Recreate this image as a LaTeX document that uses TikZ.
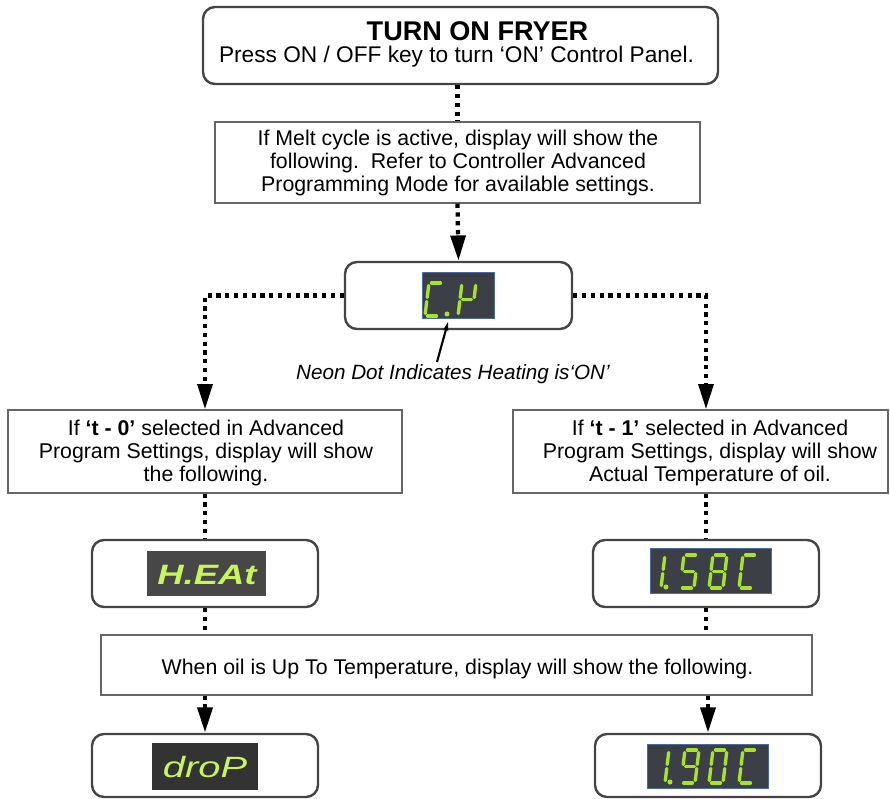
\documentclass[tikz,border=0pt]{standalone}
\usepackage{fontspec}
\setmainfont{Liberation Sans}
\usetikzlibrary{arrows.meta,calc}
\definecolor{boxgray}{HTML}{454545}
\definecolor{rectgray}{HTML}{666666}
\definecolor{led}{HTML}{A6E22E}
\definecolor{ledtext}{HTML}{C8F55E}
\definecolor{dispbg}{HTML}{3C4046}
\definecolor{dispblue}{HTML}{4A6AA0}
\tikzset{
  rbox/.style={draw=boxgray, line width=1.8pt, rounded corners=9pt, fill=white},
  sbox/.style={draw=rectgray, line width=0.9pt, fill=white},
  disp/.style={fill=dispbg, draw=dispblue, line width=0.6pt, inner sep=0pt},
  dispdark/.style={fill=#1, draw=none, inner sep=0pt},
  txt/.style={font=\fontsize{16}{17.4}\selectfont, align=center, inner sep=0pt},
  dots/.style={line width=3.2pt, dash pattern=on 3.2pt off 3.4pt, black},
  dotarrow/.style={dots, -{Triangle[width=11pt,length=19pt]}},
  seg/.style={draw=led, line width=2.5pt, line cap=round},
}
\newcommand\SA{\draw[seg] (2.5,-33) -- (11.5,-33);}
\newcommand\SB{\draw[seg] (14,-30.5) -- (14,-18.5);}
\newcommand\SC{\draw[seg] (14,-14.5) -- (14,-2.5);}
\newcommand\SD{\draw[seg] (2.5,0) -- (11.5,0);}
\newcommand\SE{\draw[seg] (0,-14.5) -- (0,-2.5);}
\newcommand\SF{\draw[seg] (0,-30.5) -- (0,-18.5);}
\newcommand\SG{\draw[seg] (2.5,-16.5) -- (11.5,-16.5);}
\newcommand\lcddigit[3]{\begin{scope}[shift={(#1,#2)},xslant=0.12]#3\end{scope}}
\begin{document}
\begin{tikzpicture}[x=0.75pt,y=-0.75pt]
\useasboundingbox (0,0) rectangle (890,799);

% ---------- boxes ----------
\node[rbox, minimum width=386.25pt, minimum height=57.75pt] (top) at (460.5,45.5) {};
\node[txt, font=\bfseries\fontsize{20.3}{22}\selectfont] (title) at (477.5,31) {TURN ON FRYER};
\node[txt, font=\fontsize{17}{19}\selectfont] (press) at (456.5,57) {Press ON / OFF key to turn ‘ON’ Control Panel.};

\node[sbox, minimum width=363.75pt, minimum height=60.75pt] (melt) at (457.5,162.5) {};
\node[txt] (melttxt) at (458,163) {If Melt cycle is active, display will show the\\following.\ \ Refer to Controller Advanced\\Programming Mode for available settings.};

\node[rbox, minimum width=170.25pt, minimum height=50.25pt] (cp) at (458.5,295.5) {};
\node[disp, minimum width=54pt, minimum height=34.5pt] (cpd) at (458,295) {};

\node[txt, font=\itshape\fontsize{15.5}{17}\selectfont] (neon) at (453,374) {Neon Dot Indicates Heating is‘ON’};

\node[sbox, minimum width=295.5pt, minimum height=62.25pt] (t0) at (205,451.5) {};
\node[txt] (t0txt) at (206,453) {If \textbf{‘t - 0’} selected in Advanced\\Program Settings, display will show\\the following.};

\node[sbox, minimum width=281.25pt, minimum height=62.25pt] (t1) at (700.5,451.5) {};
\node[txt] (t1txt) at (710,453) {If \textbf{‘t - 1’} selected in Advanced\\Program Settings, display will show\\Actual Temperature of oil.};

\node[rbox, minimum width=169.5pt, minimum height=50.25pt] (heat) at (205,573.5) {};
\node[dispdark=black!72, minimum width=89.25pt, minimum height=33.75pt] (heatd) at (206.5,573.5) {};
\node[inner sep=0pt, text=ledtext, font=\bfseries\itshape\fontsize{21}{21}\selectfont] (heattxt) at (207,575) {\scalebox{1.3}[1]{H.EAt}};

\node[rbox, minimum width=169.5pt, minimum height=50.25pt] (r158) at (706,573.5) {};
\node[disp, minimum width=90.75pt, minimum height=33.75pt] (r158d) at (710.5,570.5) {};

\node[sbox, minimum width=533.25pt, minimum height=45pt] (mid) at (456.5,665) {};
\node[txt] (midtxt) at (457.5,669) {When oil is Up To Temperature, display will show the following.};

\node[rbox, minimum width=169.5pt, minimum height=47.25pt] (drop) at (205,765.5) {};
\node[dispdark=black!80, minimum width=79.5pt, minimum height=35.25pt] (dropd) at (205,766.5) {};
\node[inner sep=0pt, text=ledtext, font=\itshape\fontsize{22}{22}\selectfont] (droptxt) at (205,767) {\scalebox{1.36}[1]{droP}};

\node[rbox, minimum width=169.5pt, minimum height=47.25pt] (r190) at (708,765.5) {};
\node[disp, minimum width=90.75pt, minimum height=33pt] (r190d) at (707.5,766) {};

% ---------- LED digits ----------
% C.P
\lcddigit{425}{316}{\SA\SD\SE\SF}
\fill[led] (447,314) circle (1.9pt);
\lcddigit{458}{316}{\SB\SE\SF\SG}
% 1.58C
\lcddigit{647}{588}{\SB\SC}
\fill[led] (666,587) circle (1.9pt);
\lcddigit{680}{588}{\SA\SF\SG\SC\SD}
\lcddigit{709}{588}{\SA\SB\SC\SD\SE\SF\SG}
\lcddigit{739}{588}{\SA\SD\SE\SF}
% 1.90C
\lcddigit{651}{783}{\SB\SC}
\fill[led] (670,782) circle (1.9pt);
\lcddigit{681}{783}{\SA\SB\SC\SD\SF\SG}
\lcddigit{709}{783}{\SA\SB\SC\SD\SE\SF}
\lcddigit{739}{783}{\SA\SD\SE\SF}

% ---------- connectors ----------
\draw[dots] (top.south -| melt.north) -- (melt.north);
\draw[dotarrow] (melt.south) -- (cp.north);
\draw[dotarrow] (cp.west) -| (t0.north);
\coordinate (t1in) at (r158.north |- t1.north);
\draw[dotarrow] (cp.east) -| (t1in);
\draw[dots] (t0.south) -- (heat.north);
\draw[dots] (r158.north |- t1.south) -- (r158.north);
\draw[dots] (heat.south) -- (heat.south |- mid.north);
\draw[dots] (r158.south) -- (r158.south |- mid.north);
\draw[dotarrow] (drop.north |- mid.south) -- (drop.north);
\draw[dotarrow] (r190.north |- mid.south) -- (r190.north);
\coordinate (dotpt) at (448,322);
\coordinate (neonfoot) at (437,362);
\draw[line width=1.6pt, -{Stealth[length=7pt,width=4pt]}] (neonfoot) -- (dotpt);
\end{tikzpicture}
\end{document}
